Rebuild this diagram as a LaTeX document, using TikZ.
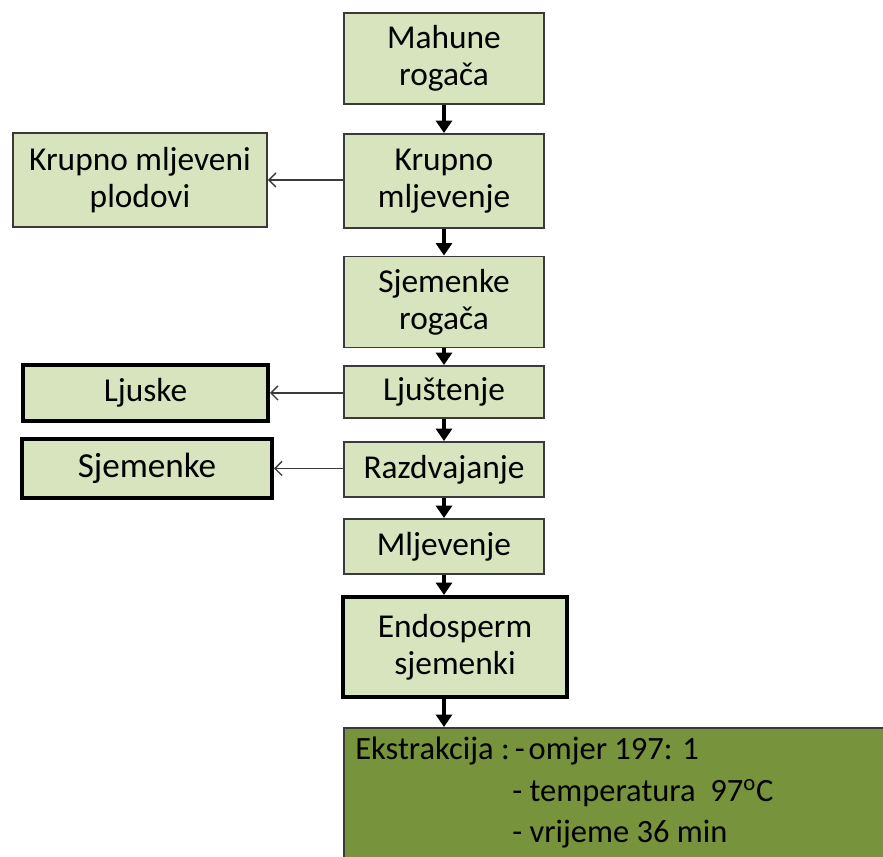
\documentclass[tikz,border=0pt]{standalone}
\usepackage{fontspec}
\setmainfont{Carlito}
\usetikzlibrary{arrows.meta}
\definecolor{lightolive}{HTML}{D7E4BD}
\definecolor{darkolive}{HTML}{77933C}
\definecolor{boxline}{HTML}{3A3A3A}
\tikzset{
    stepbox/.style={draw=boxline, line width=1.1pt, fill=lightolive, inner sep=0pt, align=center,
        minimum width=4cm, font=\fontsize{19}{21}\selectfont},
    outbox/.style={stepbox, draw=black, line width=2.3pt},
    down/.style={line width=1.8pt, -{Triangle[length=7pt, width=9pt]}},
    side/.style={line width=0.8pt, boxline, -{Straight Barb[length=4pt, width=8pt]}}
}
\begin{document}
\begin{tikzpicture}[x=0.02cm, y=-0.02cm]
    \useasboundingbox (0,0) rectangle (883,857);
    \clip (0,0) rectangle (883,857);
    % main column
    \node[stepbox, minimum height=1.82cm] (mahune) at (444,58.5) {Mahune\\rogača};
    \node[stepbox, minimum height=1.88cm] (krupno) at (444,181) {Krupno\\mljevenje};
    \node[stepbox, minimum height=1.82cm] (sjemrog) at (444,302) {Sjemenke\\rogača};
    \node[stepbox, minimum height=1.04cm] (ljust) at (444,392) {Ljuštenje};
    \node[stepbox, minimum height=1.1cm] (razdv) at (444,469.5) {Razdvajanje};
    \node[stepbox, minimum height=1.1cm] (mljev) at (444,546.5) {Mljevenje};
    \node[outbox, minimum width=4.48cm, minimum height=2cm] (endo) at (455,647) {Endosperm\\sjemenki};
    \node[draw=boxline, line width=1.1pt, fill=darkolive, anchor=north west, minimum width=12cm,
        minimum height=4cm] (ekst) at (343,727) {};
    \node[anchor=north west, align=left, inner sep=0pt, font=\fontsize{18.5}{23.5}\selectfont]
        (eksttext) at (355,737) {Ekstrakcija :\hspace{0.1cm}-\hspace{0.08cm}omjer 197: 1\\
        \hspace*{3.14cm}- temperatura\ \ 97\textsuperscript{o}C\\
        \hspace*{3.14cm}- vrijeme 36 min};
    % side products
    \node[stepbox, minimum width=5.08cm, minimum height=1.88cm] (plodovi) at (140,180) {Krupno mljeveni\\plodovi};
    \node[outbox, minimum width=4.9cm, minimum height=1.12cm] (ljuske) at (145.5,393) {Ljuske};
    \node[outbox, minimum width=5cm, minimum height=1.18cm, font=\fontsize{20}{22}\selectfont] (sjemenke) at (147,468.5) {Sjemenke};
    % arrows
    \draw[down] (mahune) -- (krupno);
    \draw[down] (krupno) -- (sjemrog);
    \draw[down] (sjemrog) -- (ljust);
    \draw[down] (ljust) -- (razdv);
    \draw[down] (razdv) -- (mljev);
    \draw[down] (mljev.south) -- (endo.north -| mljev.south);
    \draw[down] (endo.south -| mljev.south) -- (ekst.north -| mljev.south);
    \draw[side] (krupno.west |- plodovi) -- (plodovi.east);
    \draw[side] (ljust.west |- ljuske) -- (ljuske.east);
    \draw[side] (razdv.west |- sjemenke) -- (sjemenke.east);
\end{tikzpicture}
\end{document}
